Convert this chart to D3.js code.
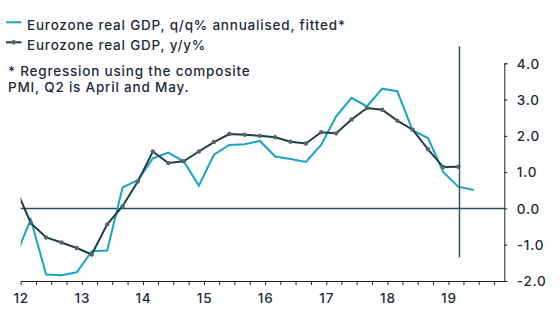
<!DOCTYPE html>
<html>
<head>
<meta charset="utf-8">
<script src="https://cdn.jsdelivr.net/npm/d3@7"></script>
<style>
  body { margin: 0; background: #fff; }
  text { font-family: Inter, "DejaVu Sans", sans-serif; font-weight: 500; letter-spacing: 0.8px; fill: #1b2b3b; }
</style>
</head>
<body>
<div id="chart"></div>
<script>
// eurozone gdp: q/q annualised (fitted) vs y/y

var quarters = ["2011Q4",
  "2012Q1", "2012Q2", "2012Q3", "2012Q4",
  "2013Q1", "2013Q2", "2013Q3", "2013Q4",
  "2014Q1", "2014Q2", "2014Q3", "2014Q4",
  "2015Q1", "2015Q2", "2015Q3", "2015Q4",
  "2016Q1", "2016Q2", "2016Q3", "2016Q4",
  "2017Q1", "2017Q2", "2017Q3", "2017Q4",
  "2018Q1", "2018Q2", "2018Q3", "2018Q4",
  "2019Q1", "2019Q2"]

var qoq = [-1.33,
  -0.30, -1.82, -1.84, -1.76,
  -1.18, -1.16, 0.58, 0.78,
  1.38, 1.54, 1.30, 0.63,
  1.48, 1.75, 1.77, 1.86,
  1.43, 1.36, 1.28, 1.75,
  2.54, 3.05, 2.81, 3.30,
  3.23, 2.15, 1.94, 1.00,
  0.60, 0.51]

// y/y stops at 2019Q1
var yoy = [0.57,
  -0.40, -0.80, -0.94, -1.09,
  -1.27, -0.44, 0.06, 0.74,
  1.57, 1.25, 1.30, 1.57,
  1.83, 2.05, 2.03, 2.00,
  1.96, 1.84, 1.79, 2.10,
  2.07, 2.45, 2.77, 2.72,
  2.42, 2.17, 1.63, 1.14,
  1.15]

var yTicks = [-2, -1, 0, 1, 2, 3, 4]
var legendLabels = ["Eurozone real GDP, q/q% annualised, fitted*", "Eurozone real GDP, y/y%"]
var noteLines = ["* Regression using the composite", "PMI, Q2 is April and May."]

// vertical marker line (data units)
var cutDate = new Date(2019, 2, 8)
var cutRange = [4.47, -1.35]

var width = 560
var height = 325
var plot = {left: 20.7, right: 504.3, top: 63.3, bottom: 281}

var lightBlue = "#19a3c6"
var darkLine = "#1e3d45"
var fontSize = 13.5

function quarterDate(q) {
  var yr = +q.slice(0, 4)
  var n = +q.slice(5)
  return new Date(yr, n * 3 - 1, 1)
}

var x = d3.scaleTime()
  .domain([new Date(2012, 0, 1), new Date(2019, 11, 1)])
  .range([plot.left, plot.right])

var y = d3.scaleLinear()
  .domain([-2, 4])
  .range([plot.bottom, plot.top])

var svg = d3.select("#chart").append("svg")
  .attr("width", width)
  .attr("height", height)

svg.append("defs").append("clipPath")
  .attr("id", "clip")
  .append("rect")
    .attr("x", plot.left)
    .attr("y", 0)
    .attr("width", plot.right - plot.left)
    .attr("height", plot.bottom)

// zero line
svg.append("line")
  .attr("x1", plot.left)
  .attr("x2", plot.right)
  .attr("y1", y(0))
  .attr("y2", y(0))
  .attr("stroke", "#28525b")
  .attr("stroke-width", 1.5)

var qoqData = quarters.map(function(q, i) { return {date: quarterDate(q), value: qoq[i]} })
var yoyData = yoy.map(function(v, i) { return {date: quarterDate(quarters[i]), value: v} })

var line = d3.line()
  .x(function(d) { return x(d.date) })
  .y(function(d) { return y(d.value) })

var g = svg.append("g").attr("clip-path", "url(#clip)")

g.append("path")
  .datum(qoqData)
  .attr("d", line)
  .attr("fill", "none")
  .attr("stroke", lightBlue)
  .attr("stroke-width", 2)

g.append("path")
  .datum(yoyData)
  .attr("d", line)
  .attr("fill", "none")
  .attr("stroke", darkLine)
  .attr("stroke-width", 2)

g.selectAll(".dot")
  .data(yoyData)
  .enter()
    .append("circle")
    .attr("class", "dot")
    .attr("cx", function(d) { return x(d.date) })
    .attr("cy", function(d) { return y(d.value) })
    .attr("r", 2.2)
    .attr("fill", "#56676b")

// vertical marker
svg.append("line")
  .attr("x1", x(cutDate))
  .attr("x2", x(cutDate))
  .attr("y1", y(cutRange[0]))
  .attr("y2", y(cutRange[1]))
  .attr("stroke", "#2b5a63")
  .attr("stroke-width", 1.5)

// axes
var fmt = d3.format(".1f")
var yAxis = d3.axisRight(y)
  .tickValues(yTicks)
  .tickSize(3)
  .tickPadding(9.5)
  .tickFormat(function(d) { return fmt(d).replace("\u2212", "-") })

svg.append("g")
  .attr("transform", "translate(" + plot.right + ",0)")
  .call(yAxis)
  .call(function(a) {
    a.selectAll("path, line").attr("stroke", "#222")
    a.selectAll("text").attr("font-size", fontSize).attr("fill", "#1b2b3b").attr("dy", "0.35em")
  })

var quarterTicks = d3.timeMonth.every(3).range(new Date(2012, 0, 1), new Date(2019, 11, 2))

var xAxis = d3.axisBottom(x)
  .tickValues(quarterTicks)
  .tickSize(4)
  .tickPadding(8)
  .tickSizeOuter(0)
  .tickFormat(function(d) {
    if (d.getMonth() != 0) return ""
    return String(d.getFullYear()).slice(2)
  })

svg.append("g")
  .attr("transform", "translate(0," + plot.bottom + ")")
  .call(xAxis)
  .call(function(a) {
    a.selectAll("path, line").attr("stroke", "#222")
    a.selectAll("text").attr("font-size", fontSize).attr("fill", "#1b2b3b")
  })

// legend
var legend = svg.append("g")
var legendY = [22.3, 42.3]

legend.selectAll("line")
  .data(legendLabels)
  .enter()
    .append("line")
    .attr("x1", 6)
    .attr("x2", 21.5)
    .attr("y1", function(d, i) { return legendY[i] })
    .attr("y2", function(d, i) { return legendY[i] })
    .attr("stroke", function(d, i) { return i == 0 ? lightBlue : darkLine })
    .attr("stroke-width", 2)

legend.append("circle")
  .attr("cx", 13.7)
  .attr("cy", legendY[1])
  .attr("r", 2.2)
  .attr("fill", "#56676b")

legend.selectAll("text")
  .data(legendLabels)
  .enter()
    .append("text")
    .attr("x", 27)
    .attr("y", function(d, i) { return legendY[i] + 7.7 })
    .attr("font-size", fontSize)
    .text(function(d) { return d })

svg.append("g").selectAll("text")
  .data(noteLines)
  .enter()
    .append("text")
    .attr("x", 8)
    .attr("y", function(d, i) { return 76 + i * 15.5 })
    .attr("font-size", fontSize)
    .text(function(d) { return d })
</script>
</body>
</html>
